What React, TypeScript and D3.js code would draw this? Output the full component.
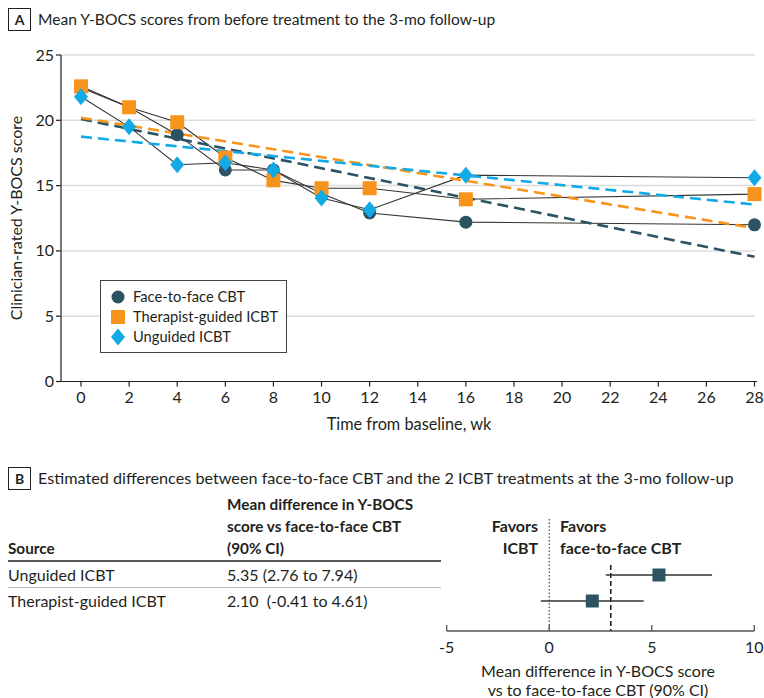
import React from "react";
import * as d3 from "d3";

// Panel A data
const weeks = [0, 2, 4, 6, 8, 10, 12, 16, 28];
const faceToFace = [22.5, 21.0, 18.9, 16.2, 16.2, 14.4, 12.9, 12.2, 12.0];
const therapistGuided = [22.6, 21.0, 19.85, 17.15, 15.4, 14.8, 14.8, 13.95, 14.35];
const unguided = [21.8, 19.5, 16.6, 16.75, 16.2, 14.05, 13.15, 15.8, 15.6];
// fitted trend lines: value at week 0 and week 28
const trendFaceToFace = [20.1, 9.55];
const trendTherapist = [20.2, 11.75];
const trendUnguided = [18.75, 13.55];
const yTicks = [0, 5, 10, 15, 20, 25];
const xTicks = [0, 2, 4, 6, 8, 10, 12, 14, 16, 18, 20, 22, 24, 26, 28];

// Panel B data
const sources = ["Unguided ICBT", "Therapist-guided ICBT"];
const meanDiff = [5.35, 2.1];
const ciLow = [2.76, -0.41];
const ciHigh = [7.94, 4.61];
const ciLabels = ["5.35 (2.76 to 7.94)", "2.10  (-0.41 to 4.61)"];
const margin = 3;
const forestTicks = [-5, 0, 5, 10];

const DARK = "#2b5362";
const ORANGE = "#f7941d";
const BLUE = "#12aae6";
const INK = "#231f20";
const FONT = "Lato, 'Open Sans', sans-serif";

const App = () => {
  const x = d3.scaleLinear().domain([0, 28]).range([81, 754.5]);
  const y = d3.scaleLinear().domain([0, 25]).range([381.5, 55]);
  const line = d3.line<number>().x((d, i) => x(weeks[i])).y((d) => y(d));

  const fx = d3.scaleLinear().domain([-5, 10]).range([446.7, 754.3]);
  const rowY = d3.scalePoint<string>().domain(sources).range([575, 601]);

  const series = [
    { name: "Face-to-face CBT", values: faceToFace, trend: trendFaceToFace, color: DARK, shape: "circle" },
    { name: "Therapist-guided ICBT", values: therapistGuided, trend: trendTherapist, color: ORANGE, shape: "square" },
    { name: "Unguided ICBT", values: unguided, trend: trendUnguided, color: BLUE, shape: "diamond" },
  ];

  const marker = (shape: string, cx: number, cy: number, color: string, key: any) => {
    if (shape === "circle") return <circle key={key} cx={cx} cy={cy} r={6.5} fill={color} />;
    if (shape === "square")
      return <rect key={key} x={cx - 7} y={cy - 7} width={14} height={14} fill={color} />;
    return (
      <path key={key} d={`M${cx},${cy - 8.5}L${cx + 7},${cy}L${cx},${cy + 8.5}L${cx - 7},${cy}Z`} fill={color} />
    );
  };

  return (
    <svg
      width={764}
      height={698}
      style={{ position: "absolute", left: 0, top: 0, fontFamily: FONT }}
    >
      <rect width={764} height={698} fill="#fff" />

      {/* Panel A header */}
      <rect x={8.5} y={8.5} width={22} height={22} fill="none" stroke={INK} strokeWidth={1} />
      <text x={19.5} y={25} textAnchor="middle" fontSize={14} fontWeight="bold" fill={INK}>A</text>
      <text x={38} y={25} fontSize={15.6} fill={INK}>
        Mean Y-BOCS scores from before treatment to the 3-mo follow-up
      </text>

      {/* gridlines */}
      {yTicks.filter((t) => t > 0).map((t) => (
        <line key={t} x1={61} x2={755} y1={y(t)} y2={y(t)} stroke="#dcdcdc" strokeWidth={1.5} />
      ))}

      {/* axes */}
      <line x1={61} x2={61} y1={55} y2={381.5} stroke={INK} strokeWidth={1.2} />
      <line x1={57} x2={757} y1={381.5} y2={381.5} stroke={INK} strokeWidth={1.2} />
      {yTicks.map((t) => (
        <g key={t}>
          <line x1={56} x2={61} y1={y(t)} y2={y(t)} stroke={INK} strokeWidth={1.2} />
          <text x={54} y={y(t) + 5.5} textAnchor="end" fontSize={16} fill={INK}>{t}</text>
        </g>
      ))}
      {xTicks.map((t) => (
        <g key={t}>
          <line x1={x(t)} x2={x(t)} y1={381.5} y2={386.5} stroke={INK} strokeWidth={1.2} />
          <text x={x(t)} y={403} textAnchor="middle" fontSize={16} fill={INK}>{t}</text>
        </g>
      ))}
      <text x={409} y={430} textAnchor="middle" fontSize={16.3} fill={INK}>Time from baseline, wk</text>
      <text transform="translate(22,218) rotate(-90)" textAnchor="middle" fontSize={16} fill={INK}>
        Clinician-rated Y-BOCS score
      </text>

      {/* observed lines */}
      {series.map((s) => (
        <path key={s.name} d={line(s.values) || ""} fill="none" stroke="#333" strokeWidth={1.1} />
      ))}
      {/* trend lines */}
      {series.map((s) => (
        <line
          key={s.name}
          x1={x(0)}
          x2={x(28)}
          y1={y(s.trend[0])}
          y2={y(s.trend[1])}
          stroke={s.color}
          strokeWidth={2.6}
          strokeDasharray="11,6"
        />
      ))}
      {/* markers */}
      {series.map((s) => (
        <g key={s.name}>{s.values.map((v, i) => marker(s.shape, x(weeks[i]), y(v), s.color, i))}</g>
      ))}

      {/* legend */}
      <rect x={100.5} y={280.5} width={186} height={72} fill="#fff" stroke="#444" strokeWidth={1} />
      {series.map((s, i) => (
        <g key={s.name}>
          {marker(s.shape, 118, 297 + i * 20, s.color, "m")}
          <text x={133} y={302 + i * 20} fontSize={14.7} fill={INK}>{s.name}</text>
        </g>
      ))}

      {/* Panel B header */}
      <rect x={8.5} y={467.5} width={22} height={22} fill="none" stroke={INK} strokeWidth={1} />
      <text x={19.5} y={484} textAnchor="middle" fontSize={14} fontWeight="bold" fill={INK}>B</text>
      <text x={38} y={484} fontSize={16.2} fill={INK}>
        Estimated differences between face-to-face CBT and the 2 ICBT treatments at the 3-mo follow-up
      </text>

      {/* table */}
      <g fontSize={16} fill={INK}>
        <text x={227} y={510} fontWeight="bold" fontSize={15.3}>Mean difference in Y-BOCS</text>
        <text x={227} y={532} fontWeight="bold" fontSize={15.3}>score vs face-to-face CBT</text>
        <text x={227} y={554} fontWeight="bold" fontSize={15.3}>(90% CI)</text>
        <text x={8} y={554} fontWeight="bold" fontSize={15.3}>Source</text>
        {sources.map((s, i) => (
          <g key={s}>
            <text x={8} y={rowY(s)! + 5.5}>{s}</text>
            <text x={227} y={rowY(s)! + 5.5} style={{ whiteSpace: "pre" }}>{ciLabels[i]}</text>
          </g>
        ))}
      </g>
      <line x1={8} x2={441} y1={561} y2={561} stroke={INK} strokeWidth={1.5} />
      <line x1={8} x2={441} y1={587.5} y2={587.5} stroke="#bbb" strokeWidth={1} />

      {/* forest plot */}
      <g fontSize={16} fill={INK} fontWeight="bold">
        <text x={538} y={532} textAnchor="end">Favors</text>
        <text x={538} y={554} textAnchor="end">ICBT</text>
        <text x={560} y={532}>Favors</text>
        <text x={560} y={554}>face-to-face CBT</text>
      </g>
      <line x1={fx(0)} x2={fx(0)} y1={519} y2={631} stroke={INK} strokeWidth={1} strokeDasharray="1.5,2" />
      <line x1={fx(margin)} x2={fx(margin)} y1={565} y2={631} stroke={INK} strokeWidth={1.6} strokeDasharray="5,3" />
      {sources.map((s, i) => (
        <g key={s}>
          <line x1={fx(ciLow[i])} x2={fx(ciHigh[i])} y1={rowY(s)} y2={rowY(s)} stroke="#333" strokeWidth={1.3} />
          <rect x={fx(meanDiff[i]) - 6.5} y={rowY(s)! - 6.5} width={13} height={13} fill={DARK} />
        </g>
      ))}
      <line x1={fx(-5)} x2={fx(10)} y1={631} y2={631} stroke="#555" strokeWidth={1.3} />
      {forestTicks.map((t) => (
        <g key={t}>
          <line x1={fx(t)} x2={fx(t)} y1={625} y2={631} stroke="#555" strokeWidth={1.3} />
          <text x={fx(t)} y={653} textAnchor="middle" fontSize={16} fill={INK}>{t}</text>
        </g>
      ))}
      <text x={598} y={677} textAnchor="middle" fontSize={16} fill={INK}>Mean difference in Y-BOCS score</text>
      <text x={598} y={696} textAnchor="middle" fontSize={16} fill={INK}>vs to face-to-face CBT (90% CI)</text>
    </svg>
  );
};

export default App;
